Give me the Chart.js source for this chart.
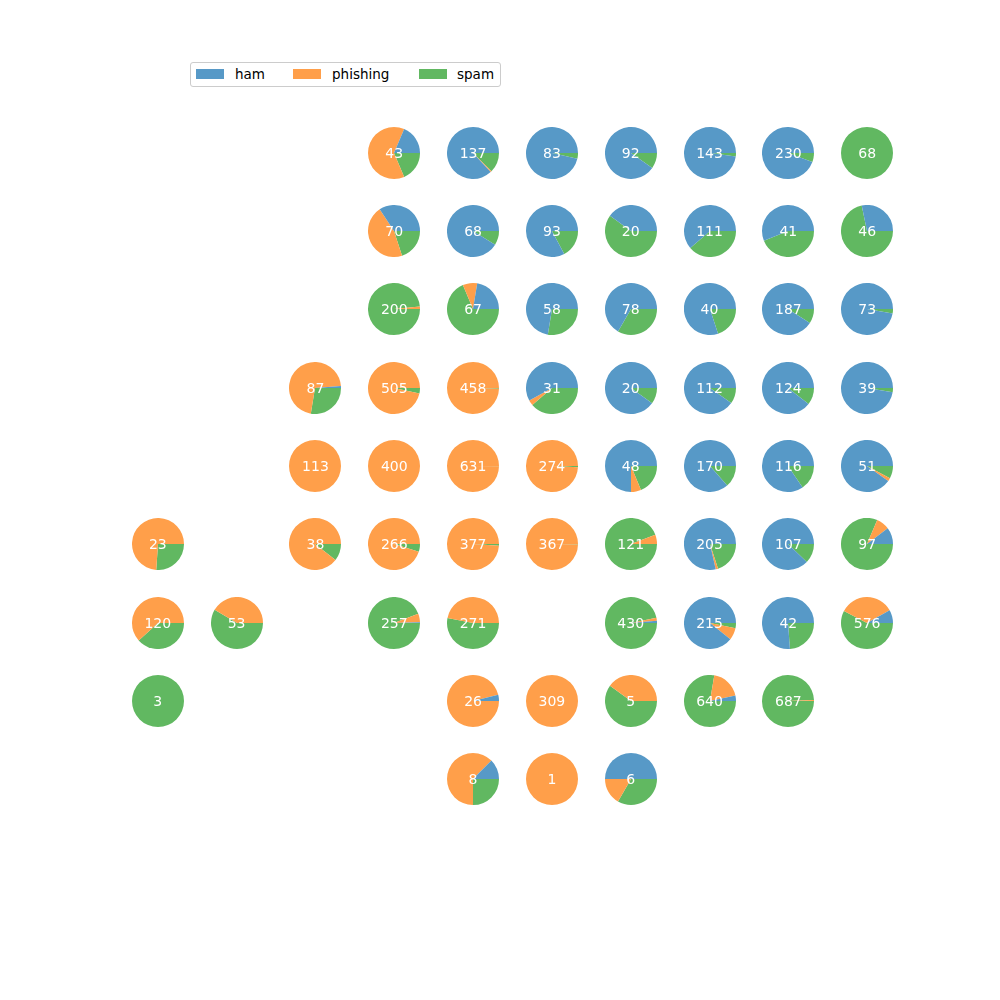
<!DOCTYPE html>
<html>
<head>
<meta charset="utf-8">
<script src="https://cdn.jsdelivr.net/npm/chart.js@4/dist/chart.umd.min.js"></script>
<style>
  html, body { margin: 0; padding: 0; background: #ffffff; }
  #stage { position: relative; width: 1000px; height: 1000px; overflow: hidden; font-family: "DejaVu Sans", sans-serif; }
  .cell { position: absolute; width: 52px; height: 52px; }
  .cell canvas { position: absolute; left: 0; top: 0; }
  .lbl { position: absolute; left: 0; top: 0; width: 52px; height: 52px; line-height: 52px; text-align: center; color: #ffffff; font-size: 14px; pointer-events: none; }
  #legend { position: absolute; left: 190px; top: 62px; width: 309px; height: 23px; border: 1px solid #cccccc; border-radius: 3px; background: #fff; }
  .lp { position: absolute; width: 28px; height: 10px; top: 6px; }
  .lt { position: absolute; top: 0; line-height: 23px; font-size: 13.5px; color: #000; }
</style>
</head>
<body>
<div id="stage">
  <div id="legend"></div>
</div>
<script>
// ---- data ----
const classNames = ["ham", "phishing", "spam"];
const nodeRow = [0,0,0,0,0,0,0, 1,1,1,1,1,1,1, 2,2,2,2,2,2,2, 3,3,3,3,3,3,3,3, 4,4,4,4,4,4,4,4, 5,5,5,5,5,5,5,5,5, 6,6,6,6,6,6,6,6, 7,7,7,7,7,7, 8,8,8];
const nodeCol = [3,4,5,6,7,8,9, 3,4,5,6,7,8,9, 3,4,5,6,7,8,9, 2,3,4,5,6,7,8,9, 2,3,4,5,6,7,8,9, 0,2,3,4,5,6,7,8,9, 0,1,3,4,6,7,8,9, 0,4,5,6,7,8, 4,5,6];
const hamCounts = [8,119,80,83,140,217,0, 24,62,77,8,68,23,13, 0,15,42,52,32,170,71, 1,0,0,18,18,101,111,38, 0,0,0,0,36,147,98,46, 0,0,0,0,0,0,161,94,10, 0,0,1,0,6,192,32,47, 0,1,0,0,22,0, 1,0,3];
const phishingCounts = [27,1,0,0,0,0,0, 32,0,0,0,0,0,0, 3,6,0,0,0,0,0, 62,488,456,1,0,0,0,0, 113,400,630,272,3,0,0,1, 17,34,253,373,366,7,3,0,8, 74,22,14,127,8,16,0,197, 0,25,309,2,121,4, 5,1,1];
const spamCounts = [8,17,3,9,3,13,68, 14,6,16,12,43,18,33, 197,46,16,26,8,17,2, 24,17,2,12,2,11,13,1, 0,0,1,2,9,23,18,4, 6,4,13,4,1,114,41,13,79, 46,31,242,144,416,7,10,332, 3,0,0,3,497,683, 2,0,2];

// ---- styles / layout ----
const colors = { ham: "#5799c7", phishing: "#ff9f4a", spam: "#61b861" };
const x0 = 157.8, dx = 78.82, y0 = 152.5, dy = 78.34, R = 26;

const stage = document.getElementById("stage");

// legend
const legend = document.getElementById("legend");
const legendLayout = [ {patch: 5, text: 44}, {patch: 102, text: 141}, {patch: 228, text: 266} ];
classNames.forEach((n, i) => {
  const p = document.createElement("div");
  p.className = "lp"; p.style.left = legendLayout[i].patch + "px"; p.style.background = colors[n];
  legend.appendChild(p);
  const t = document.createElement("div");
  t.className = "lt"; t.style.left = legendLayout[i].text + "px"; t.textContent = n;
  legend.appendChild(t);
});

for (let k = 0; k < nodeRow.length; k++) {
  const cx = x0 + nodeCol[k] * dx, cy = y0 + nodeRow[k] * dy;
  const cell = document.createElement("div");
  cell.className = "cell";
  cell.style.left = (cx - R) + "px";
  cell.style.top = (cy - R) + "px";
  const cv = document.createElement("canvas");
  cv.width = 2 * R; cv.height = 2 * R;
  cell.appendChild(cv);
  const total = hamCounts[k] + phishingCounts[k] + spamCounts[k];
  const lbl = document.createElement("div");
  lbl.className = "lbl"; lbl.textContent = String(total);
  cell.appendChild(lbl);
  stage.appendChild(cell);

  // matplotlib draws counter-clockwise from 3 o'clock; Chart.js clockwise,
  // so reverse the order and start at 3 o'clock (rotation 90).
  new Chart(cv, {
    type: "pie",
    data: {
      labels: ["spam", "phishing", "ham"],
      datasets: [{
        data: [spamCounts[k], phishingCounts[k], hamCounts[k]],
        backgroundColor: [colors.spam, colors.phishing, colors.ham],
        borderWidth: 0,
        hoverOffset: 0,
        offset: 0
      }]
    },
    options: {
      responsive: false,
      animation: false,
      events: [],
      rotation: 90,
      layout: { padding: 0 },
      plugins: { legend: { display: false }, tooltip: { enabled: false }, title: { display: false } }
    }
  });
}
</script>
</body>
</html>
